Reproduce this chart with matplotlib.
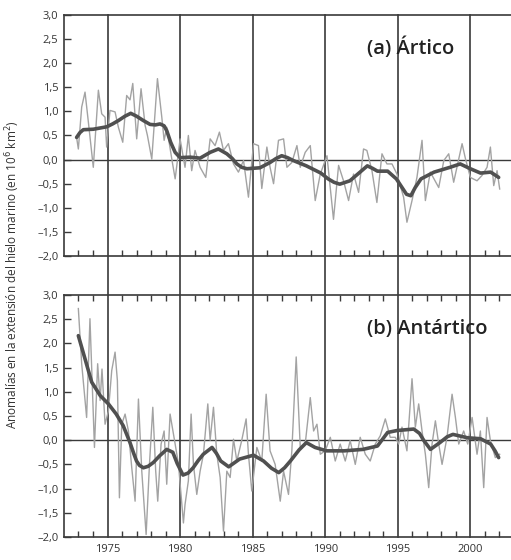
import numpy as np
import matplotlib
matplotlib.use("Agg")
import matplotlib.pyplot as plt
from matplotlib.lines import Line2D
from matplotlib import transforms

plt.rcParams['font.family'] = ['Open Sans', 'DejaVu Sans']

# %% DATA

# (a) Artico - raw monthly-ish anomalies
arc_yr = [1972.87, 1972.99, 1973.22, 1973.45, 1973.68, 1974.02, 1974.37, 1974.6, 1974.83, 1974.94,
          1975.17, 1975.52, 1975.75, 1976.05, 1976.32, 1976.55, 1976.74, 1977.01, 1977.31, 1977.59,
          1977.75, 1978.05, 1978.44, 1978.74, 1978.9, 1979.08, 1979.43, 1979.66, 1980.0, 1980.34,
          1980.57, 1980.8, 1981.03, 1981.38, 1981.77, 1982.07, 1982.41, 1982.71, 1982.99, 1983.33,
          1983.68, 1984.02, 1984.37, 1984.71, 1985.06, 1985.4, 1985.63, 1985.98, 1986.2, 1986.44,
          1986.78, 1987.13, 1987.36, 1987.7, 1988.05, 1988.28, 1988.62, 1988.97, 1989.31, 1989.66,
          1990.12, 1990.57, 1990.92, 1991.26, 1991.61, 1991.95, 1992.3, 1992.64, 1992.87, 1993.22,
          1993.56, 1993.91, 1994.25, 1994.6, 1994.94, 1995.4, 1995.63, 1995.98, 1996.32, 1996.67,
          1996.9, 1997.24, 1997.82, 1998.17, 1998.51, 1998.85, 1999.43, 1999.66, 2000.0, 2000.46,
          2000.8, 2001.15, 2001.38, 2001.61, 2001.84, 2002.02]
arc_raw = [0.46, 0.22, 1.09, 1.40, 0.78, -0.16, 1.44, 0.95, 0.88, 0.26,
           1.02, 0.99, 0.67, 0.36, 1.33, 1.24, 1.58, 0.43, 1.47, 0.71,
           0.50, 0.01, 1.68, 0.88, 0.40, 0.67, 0.01, -0.40, 0.43, -0.16,
           0.50, -0.23, 0.19, -0.16, -0.37, 0.43, 0.29, 0.57, 0.19, 0.33,
           -0.09, -0.26, -0.02, -0.78, 0.33, 0.29, -0.60, 0.26, -0.16, -0.50,
           0.40, 0.43, -0.16, -0.06, 0.29, -0.16, 0.15, 0.29, -0.85, -0.30,
           0.08, -1.24, -0.12, -0.44, -0.85, -0.30, -0.68, 0.22, 0.19, -0.23,
           -0.89, 0.12, -0.09, -0.09, -0.30, -0.78, -1.30, -0.85, -0.37, 0.40,
           -0.85, -0.26, -0.58, -0.02, 0.12, -0.47, 0.33, 0.02, -0.37, -0.44,
           -0.33, -0.16, 0.26, -0.54, -0.23, -0.61]

# (a) Artico - smoothed
arc_s_yr = [1972.87, 1973.1, 1973.33, 1974.02, 1974.94, 1975.35, 1975.75, 1976.2, 1976.6, 1977.0,
            1977.47, 1977.93, 1978.3, 1978.62, 1978.9, 1979.08, 1979.35, 1979.66, 1980.0, 1980.69,
            1981.38, 1982.07, 1982.64, 1983.22, 1983.6, 1983.91, 1984.25, 1984.6, 1985.5, 1986.2,
            1986.6, 1987.0, 1987.4, 1987.8, 1988.7, 1989.7, 1990.2, 1990.6, 1991.0, 1991.7,
            1992.4, 1992.9, 1993.25, 1993.6, 1994.3, 1994.9, 1995.25, 1995.6, 1995.9, 1996.2,
            1996.6, 1997.5, 1998.6, 1999.3, 2000.0, 2000.7, 2001.4, 2001.95]
arc_smooth = [0.46, 0.56, 0.62, 0.63, 0.68, 0.74, 0.81, 0.90, 0.96, 0.90,
              0.81, 0.73, 0.72, 0.74, 0.70, 0.60, 0.36, 0.15, 0.04, 0.05,
              0.03, 0.15, 0.22, 0.12, 0.02, -0.09, -0.16, -0.19, -0.17, -0.06,
              0.02, 0.08, 0.04, -0.02, -0.13, -0.28, -0.40, -0.47, -0.51, -0.44,
              -0.26, -0.13, -0.18, -0.24, -0.24, -0.40, -0.56, -0.72, -0.75, -0.58,
              -0.40, -0.26, -0.16, -0.09, -0.19, -0.28, -0.26, -0.37]

# (b) Antartico - raw
ant_yr = [1972.99, 1973.22, 1973.56, 1973.79, 1974.1, 1974.32, 1974.49, 1974.62, 1974.83, 1975.06,
          1975.29, 1975.52, 1975.68, 1975.82, 1975.98, 1976.21, 1976.44, 1976.67, 1976.9, 1977.13,
          1977.36, 1977.66, 1977.89, 1978.12, 1978.32, 1978.46, 1978.69, 1978.9, 1979.08, 1979.31,
          1979.66, 1979.89, 1980.23, 1980.34, 1980.57, 1980.76, 1980.92, 1981.15, 1981.38, 1981.61,
          1981.91, 1982.07, 1982.3, 1982.53, 1982.76, 1982.99, 1983.22, 1983.45, 1983.68, 1983.91,
          1984.25, 1984.55, 1984.71, 1984.94, 1985.29, 1985.63, 1985.93, 1986.2, 1986.55, 1986.9,
          1987.13, 1987.47, 1987.7, 1988.0, 1988.28, 1988.62, 1988.97, 1989.2, 1989.43, 1989.66,
          1990.0, 1990.35, 1990.69, 1991.03, 1991.38, 1991.72, 1992.07, 1992.41, 1992.76, 1993.1,
          1993.45, 1993.79, 1994.14, 1994.48, 1994.83, 1995.06, 1995.29, 1995.63, 1995.98, 1996.21,
          1996.44, 1996.67, 1996.9, 1997.13, 1997.36, 1997.59, 1997.82, 1998.05, 1998.39, 1998.74,
          1998.97, 1999.2, 1999.54, 1999.82, 2000.12, 2000.46, 2000.69, 2000.92, 2001.15, 2001.38,
          2001.72, 2002.02]
ant_raw = [2.72, 1.58, 0.47, 2.51, -0.15, 1.58, 0.82, 1.47, 0.33, 0.60,
           1.44, 1.82, 1.23, -1.19, 0.33, 0.54, 0.19, -0.57, -1.26, 0.85,
           -0.64, -1.95, -0.50, 0.68, -0.64, -1.26, -0.08, 0.19, -0.91, 0.54,
           -0.08, -0.50, -1.71, -1.33, -0.84, 0.54, -0.50, -1.12, -0.64, -0.29,
           0.75, 0.00, 0.68, -0.29, -0.77, -1.88, -0.64, -0.77, 0.02, -0.43,
           0.00, 0.44, -0.29, -1.05, -0.15, -0.43, 0.95, -0.22, -0.50, -1.26,
           -0.64, -1.12, -0.22, 1.72, -0.15, -0.08, 0.88, 0.19, 0.33, -0.29,
           -0.22, 0.06, -0.43, -0.08, -0.43, -0.01, -0.50, 0.06, -0.29, -0.43,
           -0.08, 0.09, 0.44, 0.06, 0.06, -0.08, 0.27, -0.22, 1.27, 0.27,
           0.75, 0.19, -0.29, -0.98, -0.08, 0.40, -0.08, -0.50, 0.06, 0.95,
           0.47, -0.08, 0.19, -0.08, 0.47, -0.29, 0.19, -0.98, 0.47, -0.01,
           -0.36, -0.29]

# (b) Antartico - smoothed
ant_s_yr = [1972.99, 1973.45, 1973.91, 1974.5, 1975.06, 1975.6, 1976.08, 1976.55, 1976.8, 1977.0,
            1977.2, 1977.47, 1977.8, 1978.16, 1978.6, 1979.08, 1979.5, 1979.8, 1980.2, 1980.55,
            1980.9, 1981.25, 1981.6, 1982.2, 1982.5, 1982.8, 1983.35, 1984.1, 1985.06, 1985.75,
            1986.3, 1986.8, 1987.2, 1987.6, 1988.2, 1988.7, 1989.3, 1990.1, 1991.3, 1992.6,
            1993.6, 1994.0, 1994.3, 1994.95, 1996.1, 1996.5, 1996.8, 1997.25, 1997.9, 1998.4,
            1998.8, 1999.8, 2000.7, 2001.4, 2001.7, 2001.95]
ant_smooth = [2.16, 1.68, 1.20, 0.92, 0.75, 0.54, 0.30, -0.05, -0.27, -0.43,
              -0.52, -0.57, -0.54, -0.46, -0.32, -0.19, -0.25, -0.48, -0.72, -0.68,
              -0.57, -0.42, -0.29, -0.15, -0.27, -0.43, -0.55, -0.39, -0.31, -0.43,
              -0.58, -0.67, -0.57, -0.43, -0.20, -0.05, -0.15, -0.22, -0.22, -0.19,
              -0.12, 0.04, 0.16, 0.20, 0.23, 0.14, -0.01, -0.19, -0.05, 0.07,
              0.12, 0.05, 0.03, -0.08, -0.22, -0.36]

panel_titles = ['(a) Ártico', '(b) Antártico']
ytick_vals = [-2.0, -1.5, -1.0, -0.5, 0.0, 0.5, 1.0, 1.5, 2.0, 2.5, 3.0]
ytick_labels = ['–2,0', '–1,5', '–1,0', '–0,5', '0,0', '0,5', '1,0', '1,5', '2,0', '2,5', '3,0']
major_years = [1975, 1980, 1985, 1990, 1995, 2000]
minor_years = [y for y in range(1973, 2003) if y % 5 != 0]
ylabel = 'Anomalías en la extensión del hielo marino (en 10$^6$ km$^2$)'

# %% FIGURE
raw_col = '#a3a3a3'
smooth_col = '#505050'
frame_col = '#3a3a3a'

fig = plt.figure(figsize=(5.11, 5.60), dpi=100)
ax_a = fig.add_axes([0.1252, 0.5429, 0.8748, 0.4303])
ax_b = fig.add_axes([0.1252, 0.0411, 0.8748, 0.4321])

series = [(ax_a, arc_yr, arc_raw, arc_s_yr, arc_smooth),
          (ax_b, ant_yr, ant_raw, ant_s_yr, ant_smooth)]

for k, (ax, yr, raw, syr, sm) in enumerate(series):
    ax.patch.set_visible(False)
    ax.plot(yr, raw, color=raw_col, lw=1.0, zorder=2)
    ax.plot(syr, sm, color=smooth_col, lw=2.6, zorder=3,
            solid_capstyle='round', solid_joinstyle='round')
    ax.axhline(0, color=frame_col, lw=1.0, zorder=1)
    ax.set_xlim(1972, 2002.8)
    ax.set_ylim(-2.0, 3.0)
    ax.set_yticks(ytick_vals)
    ax.set_yticklabels(ytick_labels, fontsize=8, color='#333333')
    ax.tick_params(axis='y', direction='in', length=5, width=1, color=frame_col, pad=4)
    ax.spines['right'].set_visible(False)
    for s in ['top', 'left', 'bottom']:
        ax.spines[s].set_color(frame_col)
        ax.spines[s].set_linewidth(1.2)
    ax.set_xticks(major_years)
    ax.set_xticks(minor_years, minor=True)
    ax.tick_params(axis='x', which='major', length=0, labelsize=8, labelcolor='#333333', pad=5)
    ax.tick_params(axis='x', which='minor', direction='in', length=4, width=1, color=frame_col)
    ax.text(1992.9, 2.3, panel_titles[k], fontsize=14.5, ha='left', va='center',
            color='#222222', fontweight='semibold')

ax_a.tick_params(axis='x', which='major', labelbottom=False)
ax_b.tick_params(axis='x', which='minor', top=True)

# vertical 5-year lines running through both panels
trans = transforms.blended_transform_factory(ax_b.transData, fig.transFigure)
for y in major_years:
    fig.add_artist(Line2D([y, y], [0.0411, 0.9732], transform=trans,
                          color=frame_col, lw=1.2, zorder=0))

fig.text(0.024, 0.51, ylabel, rotation=90, ha='center', va='center', fontsize=8.5, color='#333333')

fig.savefig('out.png', dpi=100, facecolor='white')
